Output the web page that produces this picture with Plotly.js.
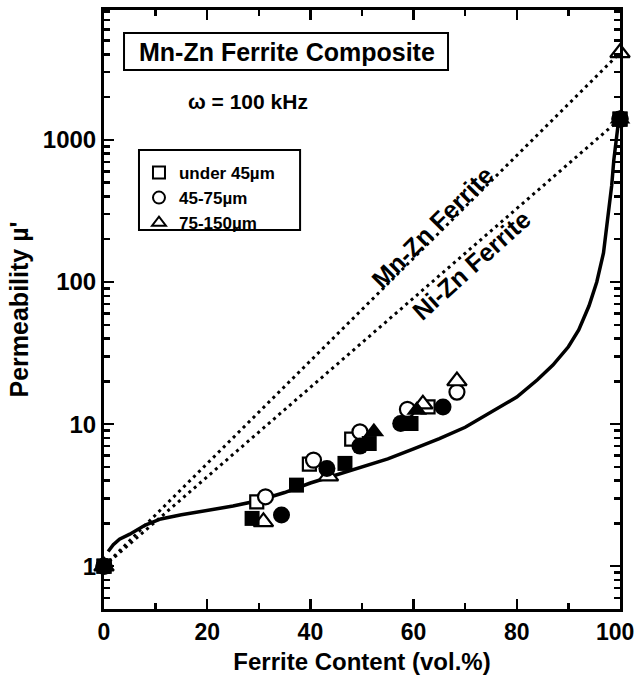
<!DOCTYPE html>
<html><head><meta charset="utf-8">
<script src="https://cdn.plot.ly/plotly-3.0.1.min.js"></script>
<style>body{margin:0;background:#fff}#chart{width:636px;height:687px}</style>
</head><body><div id="chart"></div>
<script>
// ---- data ----
const sqOpenX = [0, 29.6, 39.8, 48.0, 62.8, 100];
const sqOpenY = [1, 2.84, 5.23, 7.84, 13.2, 1400];
const ciOpenX = [0, 31.3, 40.6, 49.6, 58.8, 68.4, 100];
const ciOpenY = [1, 3.08, 5.58, 8.83, 12.7, 16.8, 1400];
const trOpenX = [0, 30.9, 43.5, 61.8, 68.4, 100];
const trOpenY = [1, 2.05, 4.3, 13.8, 20.1, 4100];
const sqFillX = [0, 28.7, 37.3, 46.7, 51.4, 59.5, 100];
const sqFillY = [1, 2.17, 3.72, 5.29, 7.3, 10.1, 1400];
const ciFillX = [0, 34.4, 43.2, 49.6, 57.5, 65.7, 100];
const ciFillY = [1, 2.29, 4.87, 7.0, 10.1, 13.2, 1400];
const trFillX = [0, 52.3, 60.6, 100];
const trFillY = [1, 8.83, 12.5, 1400];
const curveX = [0.8, 1.8, 3, 5, 8, 11, 15, 20, 25, 30, 35, 40, 45, 50, 55, 60, 65, 70, 75, 80, 84, 87, 90, 92, 94, 95.5, 96.8, 97.7, 98.4, 98.8, 99.2, 99.6, 100];
const curveY = [1.27, 1.42, 1.55, 1.68, 1.95, 2.15, 2.3, 2.47, 2.65, 2.9, 3.3, 3.85, 4.4, 5.0, 5.7, 6.7, 7.9, 9.5, 12.2, 15.5, 20.5, 26, 35, 46, 68, 100, 160, 280, 480, 720, 1000, 1250, 1400];
const mnZnX = [0, 100];
const mnZnY = [1, 4100];
const niZnX = [0, 100];
const niZnY = [1, 1400];
const legendNames = ['under 45µm', '45-75µm', '75-150µm'];
const xTicks = [0, 20, 40, 60, 80, 100];
const xTickText = ['0', '20', '40', '60', '80', ''];
const xLastTickText = '100';
const xMinor = [10, 30, 50, 70, 90];
const yTicks = [1, 10, 100, 1000];
const yTickText = ['1', '10', '100', '1000'];
const yMinor = [0.6, 0.7, 0.8, 0.9, 2, 3, 4, 5, 6, 7, 8, 9, 20, 30, 40, 50, 60, 70, 80, 90, 200, 300, 400, 500, 600, 700, 800, 900, 2000, 3000, 4000, 5000, 6000, 7000, 8000];

const FONT = 'Liberation Sans, Arial, Helvetica, sans-serif';
const openM = (sym, size) => ({symbol: sym, size: size, color: '#fff', line: {color: '#000', width: 2.2}});
const fillM = (sym, size) => ({symbol: sym, size: size, color: '#000', line: {color: '#000', width: 0}});

const traces = [
  {x: mnZnX, y: mnZnY, mode: 'lines', line: {color: '#000', width: 3, dash: '3px,4px'}, showlegend: false, hoverinfo: 'skip'},
  {x: niZnX, y: niZnY, mode: 'lines', line: {color: '#000', width: 3, dash: '3px,4px'}, showlegend: false, hoverinfo: 'skip'},
  {x: curveX, y: curveY, mode: 'lines', line: {color: '#000', width: 3.5, shape: 'linear'}, showlegend: false},
  {x: sqOpenX, y: sqOpenY, mode: 'markers', name: legendNames[0], marker: openM('square', 13), legendgroup: 'a', cliponaxis: false},
  {x: ciOpenX, y: ciOpenY, mode: 'markers', name: legendNames[1], marker: openM('circle', 15), legendgroup: 'b', cliponaxis: false},
  {x: trOpenX, y: trOpenY, mode: 'markers', name: legendNames[2], marker: openM('triangle-up', 17), legendgroup: 'c', cliponaxis: false},
  {x: sqFillX, y: sqFillY, mode: 'markers', marker: fillM('square', 15), showlegend: false, cliponaxis: false},
  {x: ciFillX, y: ciFillY, mode: 'markers', marker: fillM('circle', 17), showlegend: false, cliponaxis: false},
  {x: trFillX, y: trFillY, mode: 'markers', marker: fillM('triangle-up', 18), showlegend: false, cliponaxis: false}
];

const axisCommon = {
  showline: true, linecolor: '#000', linewidth: 3, mirror: 'allticks',
  ticks: 'inside', ticklen: 10, tickwidth: 2.5, tickcolor: '#000',
  showgrid: false, zeroline: false,
  tickfont: {family: FONT, size: 23, color: '#000', weight: 700}
};

const layout = {
  width: 636, height: 687,
  margin: {l: 104, r: 16, t: 10, b: 78},
  paper_bgcolor: '#fff', plot_bgcolor: '#fff',
  font: {family: FONT, color: '#000', weight: 700},
  xaxis: Object.assign({}, axisCommon, {
    range: [0, 100], tickmode: 'array', tickvals: xTicks, ticktext: xTickText,
    minor: {tickmode: 'array', tickvals: xMinor, ticks: 'inside', ticklen: 6, tickwidth: 2.5, tickcolor: '#000'},
    title: {text: 'Ferrite Content (vol.%)', font: {family: FONT, size: 24, weight: 700}, standoff: 10}
  }),
  yaxis: Object.assign({}, axisCommon, {
    type: 'log', range: [Math.log10(0.5), Math.log10(8200)],
    tickmode: 'array', tickvals: yTicks, ticktext: yTickText,
    tickfont: {family: FONT, size: 24, color: '#000', weight: 700},
    minor: {tickmode: 'array', tickvals: yMinor, ticks: 'inside', ticklen: 6, tickwidth: 2.5, tickcolor: '#000'},
    title: {text: "Permeability µ'", font: {family: FONT, size: 25, weight: 700}, standoff: 8}
  }),
  showlegend: true,
  legend: {
    x: 0.0678, y: 0.758, xanchor: 'left', yanchor: 'top',
    bgcolor: 'rgba(0,0,0,0)', borderwidth: 0,
    font: {family: FONT, size: 17, color: '#000', weight: 700},
    traceorder: 'grouped', tracegroupgap: 0, itemsizing: 'constant'
  },
  shapes: [
    {type: 'rect', xref: 'paper', yref: 'paper', x0: 0.0388, x1: 0.6667, y0: 0.8998, y1: 0.9616, line: {color: '#000', width: 2}},
    {type: 'rect', xref: 'paper', yref: 'paper', x0: 0.0678, x1: 0.380, y0: 0.6327, y1: 0.7663, line: {color: '#000', width: 2}}
  ],
  annotations: [
    {xref: 'paper', yref: 'paper', x: 0.3547, y: 0.9307, text: 'Mn-Zn Ferrite Composite', showarrow: false, xanchor: 'center', yanchor: 'middle', font: {family: FONT, size: 25, weight: 700}},
    {xref: 'paper', yref: 'paper', x: 0.279, y: 0.848, text: 'ω = 100 kHz', showarrow: false, xanchor: 'center', yanchor: 'middle', font: {family: FONT, size: 21, weight: 700}},
    {xref: 'x', yref: 'y', x: 63.6, y: 2.39, text: 'Mn-Zn Ferrite', showarrow: false, textangle: -45, font: {family: FONT, size: 25, weight: 700}},
    {xref: 'x', yref: 'y', x: 71.2, y: 2.12, text: 'Ni-Zn Ferrite', showarrow: false, textangle: -42, font: {family: FONT, size: 25, weight: 700}},
    {xref: 'x', yref: 'paper', x: xTicks[5], y: 0, text: xLastTickText, showarrow: false, xanchor: 'center', yanchor: 'middle', xshift: -5, yshift: -23, borderpad: 0, font: {family: FONT, size: 23, weight: 700}}
  ]
};

Plotly.newPlot('chart', traces, layout, {displayModeBar: false, staticPlot: true});
</script>
</body></html>
